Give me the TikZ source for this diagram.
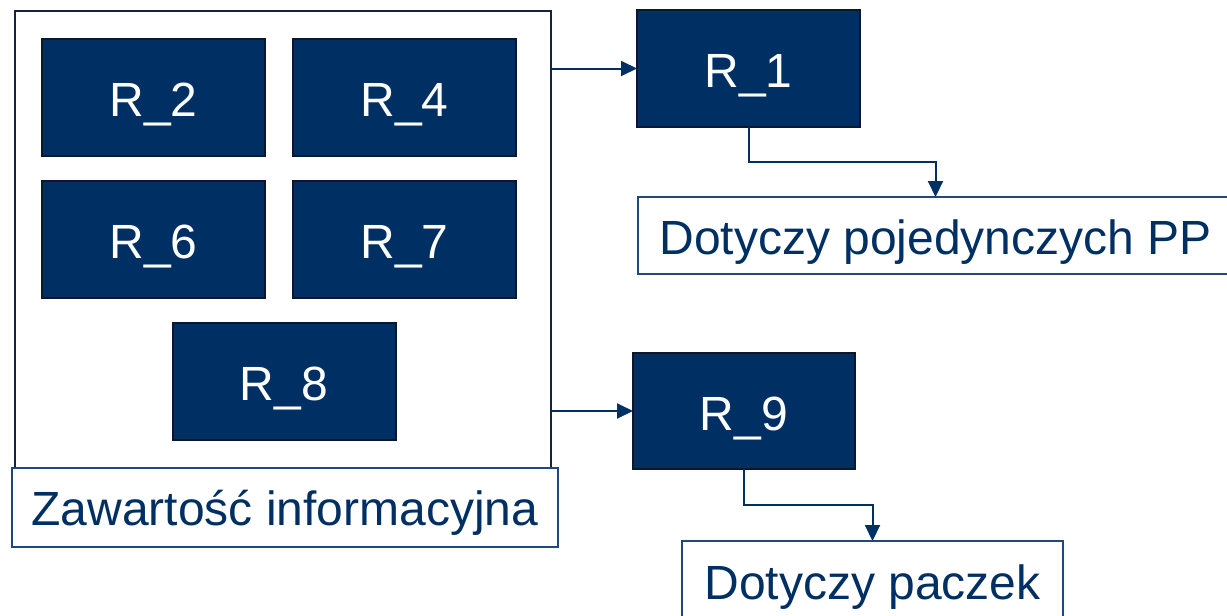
\documentclass[tikz,border=0pt]{standalone}
\usepackage{fontspec}
\setmainfont{Liberation Sans}
\usetikzlibrary{arrows.meta}
\definecolor{navy}{RGB}{0,48,99}
\definecolor{boxline}{RGB}{12,22,45}
\definecolor{outerline}{RGB}{20,35,65}
\definecolor{labline}{RGB}{31,73,125}
\begin{document}
\begin{tikzpicture}[x=1pt,y=-1pt,
  every node/.style={inner sep=0pt,outer sep=0pt,font=\fontsize{48}{57}\selectfont,text height=38pt,text depth=0pt},
  rbox/.style={draw=boxline,fill=navy,line width=2pt,text=white,minimum width=223pt,minimum height=117pt},
  outerbox/.style={draw=outerline,fill=white,line width=2pt},
  labbox/.style={draw=labline,fill=white,line width=2pt,text=navy,minimum height=78pt},
  arr/.style={draw=navy,line width=2pt,-{Triangle[length=16pt,width=15pt]}}
]
\useasboundingbox (0,0) rectangle (1227,616);
\node[outerbox,minimum width=536pt,minimum height=457pt] (outer) at (283,239.5) {};
\node[rbox] (r2) at (153.5,97.5) {R\_2};
\node[rbox] (r4) at (404.5,97.5) {R\_4};
\node[rbox] (r6) at (153.5,239.5) {R\_6};
\node[rbox] (r7) at (404.5,239.5) {R\_7};
\node[rbox] (r8) at (284,381.5) {R\_8};
\node[labbox,minimum width=546pt,minimum height=79pt,text height=35pt] (zaw) at (285,507.5) {Zawartość informacyjna};
\node[rbox] (r1) at (748.5,68.5) {R\_1};
\node[rbox,minimum width=222pt,minimum height=116pt] (r9) at (744,411) {R\_9};
\node[labbox,minimum width=595pt,minimum height=77pt] (pp) at (935.5,235.5) {Dotyczy pojedynczych PP};
\node[labbox,minimum width=381pt,minimum height=79pt] (pac) at (872.5,580.5) {Dotyczy paczek};
\draw[arr] (outer.east |- r1.west) -- (r1.west);
\draw[arr] (outer.east |- r9.west) -- (r9.west);
\draw[arr] (r1.south) -- ++(0,35) -| (pp.north);
\draw[arr] (r9.south) -- ++(0,36) -| (pac.north);
\end{tikzpicture}
\end{document}
